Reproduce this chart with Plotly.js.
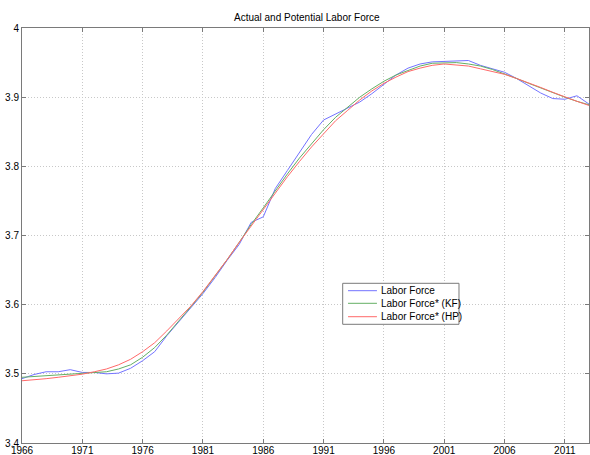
<!DOCTYPE html>
<html>
<head>
<meta charset="utf-8">
<script src="https://cdn.plot.ly/plotly-3.0.1.min.js"></script>
<style>
html,body{margin:0;padding:0;background:#fff;}
#chart{width:590px;height:455px;}
</style>
</head>
<body>
<div id="chart"></div>
<script>
const years = [1966,1967,1968,1969,1970,1971,1972,1973,1974,1975,1976,1977,1978,1979,1980,1981,1982,1983,1984,1985,1986,1987,1988,1989,1990,1991,1992,1993,1994,1995,1996,1997,1998,1999,2000,2001,2002,2003,2004,2005,2006,2007,2008,2009,2010,2011,2012,2013];

const laborForce = [3.493,3.499,3.503,3.503,3.506,3.502,3.502,3.500,3.501,3.508,3.519,3.532,3.555,3.575,3.596,3.616,3.639,3.664,3.687,3.719,3.727,3.768,3.794,3.820,3.846,3.867,3.876,3.885,3.893,3.905,3.919,3.932,3.942,3.948,3.951,3.952,3.952,3.953,3.946,3.941,3.936,3.927,3.917,3.906,3.898,3.897,3.902,3.890];

const laborForceKF = [3.495,3.496,3.497,3.498,3.499,3.500,3.501,3.503,3.507,3.513,3.524,3.538,3.556,3.576,3.597,3.618,3.641,3.665,3.690,3.716,3.740,3.765,3.789,3.812,3.833,3.853,3.871,3.886,3.900,3.912,3.923,3.932,3.939,3.945,3.949,3.950,3.950,3.948,3.945,3.940,3.934,3.927,3.920,3.913,3.906,3.900,3.894,3.889];

const laborForceHP = [3.490,3.491,3.493,3.495,3.497,3.4995,3.503,3.507,3.513,3.521,3.532,3.545,3.562,3.580,3.598,3.619,3.642,3.665,3.690,3.714,3.738,3.761,3.785,3.807,3.828,3.847,3.866,3.881,3.896,3.909,3.920,3.929,3.937,3.942,3.946,3.948,3.947,3.945,3.941,3.937,3.933,3.927,3.921,3.914,3.907,3.900,3.894,3.888];

const seriesNames = ['Labor Force','Labor Force* (KF)','Labor Force* (HP)'];
const seriesColors = ['rgb(115,115,255)','rgb(100,175,100)','rgb(255,105,105)'];
const xTicks = [1966,1971,1976,1981,1986,1991,1996,2001,2006,2011];
const yTicks = [3.4,3.5,3.6,3.7,3.8,3.9,4];

const font = {family:'"Liberation Sans", Arial, sans-serif', size:10, color:'#000'};
const frameColor = '#7a7a7a';

const data = [laborForce, laborForceKF, laborForceHP].map((ys,i)=>({
  x: years, y: ys, type:'scatter', mode:'lines', name: seriesNames[i],
  line:{color:seriesColors[i], width:1}, showlegend:false
}));

const axisCommon = {
  showline:true, linecolor:frameColor, linewidth:1, mirror:'ticks',
  ticks:'inside', ticklen:4, tickcolor:frameColor, tickwidth:1,
  showgrid:true, gridcolor:'#c8c8c8', griddash:'1px,2px', gridwidth:1,
  zeroline:false, automargin:false, tickfont:font
};

// Legend box (MATLAB-style), positioned in paper coordinates
const legBox = {x0:0.5656, x1:0.7707, y0:0.286, y1:0.3848};
const legLineX = [0.575, 0.626];
const legRowsY = [0.367, 0.3366, 0.3043];
const legTextX = 0.630;

const shapes = [{type:'rect', xref:'paper', yref:'paper', x0:legBox.x0, x1:legBox.x1, y0:legBox.y0, y1:legBox.y1,
  line:{color:frameColor, width:1}, fillcolor:'#fff', layer:'above'}];
const annotations = [];
seriesNames.forEach((n,i)=>{
  shapes.push({type:'line', xref:'paper', yref:'paper', x0:legLineX[0], x1:legLineX[1], y0:legRowsY[i], y1:legRowsY[i],
    line:{color:seriesColors[i], width:1}, layer:'above'});
  annotations.push({xref:'paper', yref:'paper', x:legTextX, y:legRowsY[i], xanchor:'left', yanchor:'middle',
    text:n, showarrow:false, font:font});
});

const layout = {
  width:590, height:455,
  margin:{l:22, r:1, t:28, b:12},
  paper_bgcolor:'#fff', plot_bgcolor:'#fff',
  font: font,
  title:{text:'Actual and Potential Labor Force', font:{...font, size:10}, x:0.52, xanchor:'center', y:0.962, yanchor:'middle'},
  xaxis:{...axisCommon, range:[1966,2013], tickmode:'array', tickvals:xTicks, ticktext:xTicks.map(String), ticklabelstandoff:-2},
  yaxis:{...axisCommon, range:[3.4,4], tickmode:'array', tickvals:yTicks, ticktext:yTicks.map(String)},
  showlegend:false,
  shapes: shapes,
  annotations: annotations
};

Plotly.newPlot('chart', data, layout, {staticPlot:true, displayModeBar:false});
</script>
</body>
</html>
